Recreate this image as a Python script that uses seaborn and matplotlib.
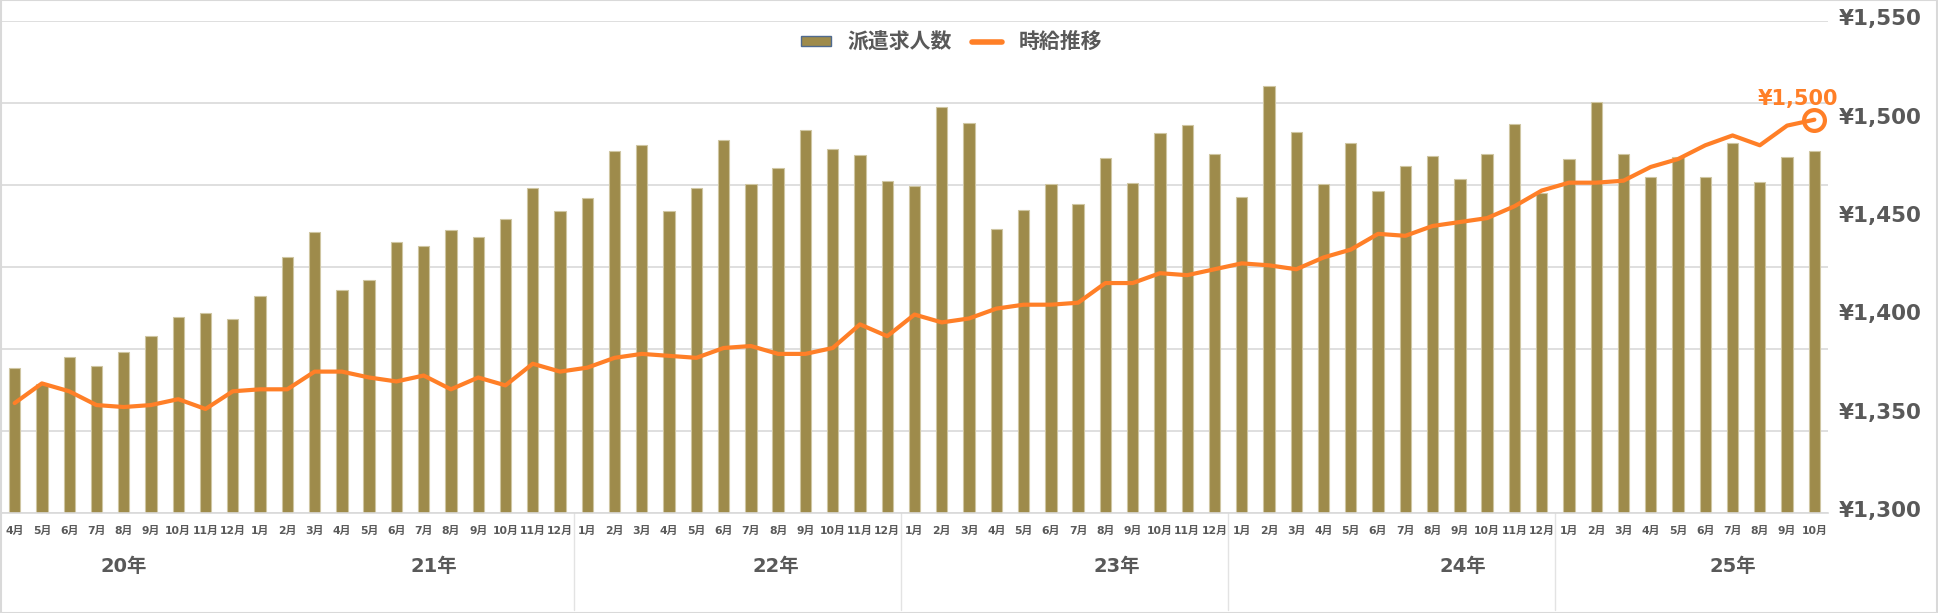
import numpy as np
import pandas as pd
import matplotlib
matplotlib.use("Agg")
import matplotlib.pyplot as plt
import seaborn as sns
from matplotlib.patches import Patch, Rectangle
from matplotlib.lines import Line2D
from matplotlib.ticker import FuncFormatter, MultipleLocator
from matplotlib.transforms import ScaledTranslation

# ---------------- data ----------------
years = ["20年", "21年", "22年", "23年", "24年", "25年"]
months_per_year = [
    [4, 5, 6, 7, 8, 9, 10, 11, 12],
    list(range(1, 13)),
    list(range(1, 13)),
    list(range(1, 13)),
    list(range(1, 13)),
    list(range(1, 11)),
]

# 派遣求人数 (relative index, hidden axis)
jobs = [17680, 15770, 19020, 18010, 19630, 21670, 23980, 24470, 23660,
        26500, 31300, 34310, 27280, 28500, 33130, 32600, 34590, 33700, 35930, 39720, 36910,
        38410, 44190, 44880, 36910, 39720, 45530, 40160, 42070, 46750, 44390, 43740, 40570,
        39940, 49550, 47600, 34670, 36990, 40200, 37760, 43370, 40330, 46340, 47320, 43780,
        38540, 52070, 46500, 40200, 45120, 39310, 42360, 43620, 40730, 43780, 47480, 39020,
        43210, 50120, 43780, 40980, 43410, 41020, 45160, 40410, 43460, 44190]

# 時給推移 (yen)
wage = [1356, 1366, 1362, 1355, 1354, 1355, 1358, 1353, 1362,
        1363, 1363, 1372, 1372, 1369, 1367, 1370, 1363, 1369, 1365, 1376, 1372,
        1374, 1379, 1381, 1380, 1379, 1384, 1385, 1381, 1381, 1384, 1396, 1390,
        1401, 1397, 1399, 1404, 1406, 1406, 1407, 1417, 1417, 1422, 1421, 1424,
        1427, 1426, 1424, 1430, 1434, 1442, 1441, 1446, 1448, 1450, 1456, 1464,
        1468, 1468, 1469, 1476, 1480, 1487, 1492, 1487, 1497, 1500]

# year label offsets (in category widths, layout only)
year_label_shift = [0.0, 0.88, 1.43, 1.93, 2.6, 1.5]

keys, month_labels = [], []
for y, ms in zip(years, months_per_year):
    for m in ms:
        keys.append(f"{y}{m}月")
        month_labels.append(f"{m}月")
n = len(keys)
df = pd.DataFrame({"key": keys, "jobs": jobs, "wage": wage, "pos": np.arange(n)})

# ---------------- style ----------------
BAR = "#9E8B4B"
BAR_EDGE = "#CFC6A2"
ORANGE = "#FF7F27"
GRID = "#D9D9D9"
TXT = "#595959"

sns.set_style("white")
plt.rcParams["font.family"] = ["DejaVu Sans", "Noto Sans CJK JP"]
plt.rcParams["font.weight"] = "bold"

W, H = 1938, 613
fig = plt.figure(figsize=(W / 100, H / 100), dpi=100)
left_px, right_px, top_px, bot_px = 1, 1828, 21.3, 513.3
ax = fig.add_axes([left_px / W, 1 - bot_px / H, (right_px - left_px) / W, (bot_px - top_px) / H])

sns.barplot(data=df, x="key", y="jobs", ax=ax, color=BAR, saturation=1,
            width=0.415, edgecolor=BAR_EDGE, linewidth=0.8)
ax.set_ylim(0, 60000)
ax.yaxis.set_major_locator(MultipleLocator(10000))
ax.yaxis.grid(True, color=GRID, linewidth=1.2)
ax.set_axisbelow(True)
ax.tick_params(axis="y", left=False, labelleft=False)
ax.set_ylabel("")
ax.set_xlabel("")
for s in ["left", "right", "top"]:
    ax.spines[s].set_visible(False)
ax.spines["bottom"].set_color(GRID)
ax.spines["bottom"].set_linewidth(1.2)

ax2 = ax.twinx()
sns.lineplot(x=df["pos"], y=df["wage"], ax=ax2, color=ORANGE, linewidth=3.0)
ax2.plot([df["pos"].iloc[-1]], [df["wage"].iloc[-1]], marker="o", markersize=15,
         mfc="none", mec=ORANGE, mew=3, zorder=5)
ax2.annotate(f"¥{df['wage'].iloc[-1]:,}", xy=(df["pos"].iloc[-1], df["wage"].iloc[-1]),
             xytext=(-12, 15), textcoords="offset points", ha="center", va="center",
             color=ORANGE, fontsize=15, fontweight="bold")
ax2.set_ylim(1300, 1550)
ax2.yaxis.set_major_locator(MultipleLocator(50))
ax2.yaxis.set_major_formatter(FuncFormatter(lambda v, p: f"¥{v:,.0f}"))
ax2.tick_params(axis="y", length=0, pad=8, labelsize=15.5, labelcolor=TXT)
ax2.set_ylabel("")
for s in ax2.spines.values():
    s.set_visible(False)
shift = ScaledTranslation(0, 3 / 72, fig.dpi_scale_trans)
for lbl in ax2.get_yticklabels():
    lbl.set_transform(lbl.get_transform() + shift)

ax.set_xlim(-0.5, n - 0.5)
ax.set_xticks(np.arange(n))
ax.set_xticklabels(month_labels, fontsize=7.8, color=TXT, fontweight="bold")
ax.tick_params(axis="x", which="major", length=0, pad=9)
ax.set_xticks(np.arange(n - 1) + 0.5, minor=True)
ax.tick_params(axis="x", which="minor", length=4, color=GRID, width=1)

# year groups
xtr = ax.get_xaxis_transform()
start = 0
for i, (y, ms) in enumerate(zip(years, months_per_year)):
    end = start + len(ms)
    center = (start + end - 1) / 2 + year_label_shift[i]
    ax.text(center, -0.109, y, transform=xtr, ha="center", va="center",
            fontsize=14, fontweight="bold", color=TXT)
    if i > 1:
        ax.plot([start - 0.5, start - 0.5], [0, -0.197], transform=xtr, color="#E3E3E3",
                lw=1, clip_on=False)
    start = end

# legend
handles = [Patch(facecolor=BAR, edgecolor="#4F6A8F", linewidth=1),
           Line2D([0], [0], color=ORANGE, lw=4)]
fig.legend(handles, ["派遣求人数", "時給推移"], loc="center", bbox_to_anchor=(0.491, 0.931),
           ncol=2, frameon=False, handlelength=1.4, handleheight=0.42,
           handletextpad=0.8, columnspacing=1.0, labelcolor=TXT,
           prop={"weight": "bold", "size": 15})

fig.patches.append(Rectangle((0.0004, 0.0008), 0.9992, 0.9984, transform=fig.transFigure,
                             fill=False, edgecolor=GRID, lw=1.5))

fig.savefig("out.png", dpi=100, facecolor="white")
